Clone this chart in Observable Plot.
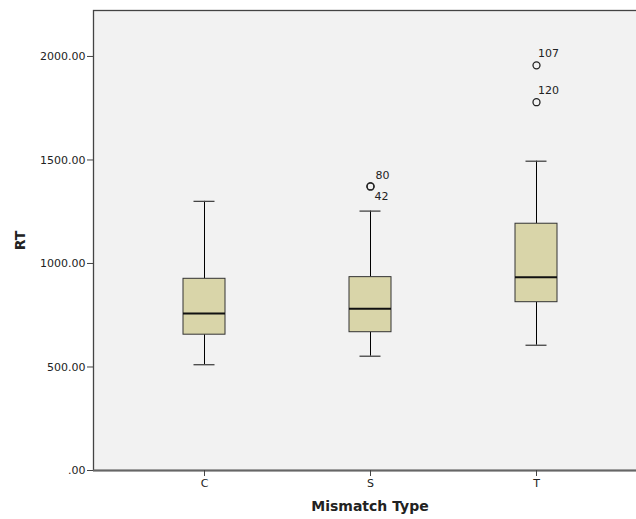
<!DOCTYPE html>
<html>
<head>
<meta charset="utf-8">
<script src="https://cdn.jsdelivr.net/npm/d3@7"></script>
<script src="https://cdn.jsdelivr.net/npm/@observablehq/plot@0.6"></script>
<style>
  html, body { margin: 0; padding: 0; background: #fff; overflow: hidden; }
  #chart { width: 636px; height: 519px; overflow: hidden; }
  #chart svg { max-width: none !important; }
</style>
</head>
<body>
<div id="chart"></div>
<script>
// Summary statistics
const categories = ["C", "S", "T"];
const q1 = [656, 668, 813];
const median = [758, 781, 934];
const q3 = [926, 934, 1192];
const whiskerLow = [511, 552, 605];
const whiskerHigh = [1300, 1253, 1494];

// Outliers: category, value, case label
const outlierCat = ["S", "S", "T", "T"];
const outlierVal = [1372, 1372, 1957, 1779];
const outlierLabel = ["80", "42", "107", "120"];

const yTicks = [0, 500, 1000, 1500, 2000];

const boxes = categories.map((c, i) => ({
  cat: c, q1: q1[i], med: median[i], q3: q3[i], lo: whiskerLow[i], hi: whiskerHigh[i]
}));
const outliers = outlierCat.map((c, i) => ({cat: c, val: outlierVal[i], label: outlierLabel[i]}));

const font = "'DejaVu Sans', sans-serif";

const chart = Plot.plot({
  width: 646,
  height: 519,
  marginLeft: 93,
  marginRight: 0,
  marginTop: 10,
  marginBottom: 49,
  style: {fontFamily: font, fontSize: "11px", color: "#222", background: "#fff", maxWidth: "none"},
  x: {domain: categories, paddingInner: 0.748, paddingOuter: 0.535, align: 0.5},
  y: {domain: [0, 2222]},
  marks: [
    Plot.frame({fill: "#f2f2f2"}),
    Plot.frame({stroke: "#444", strokeWidth: 1.3}),
    Plot.ruleY([0], {stroke: "#666", strokeWidth: 2}),
    Plot.axisY({
      ticks: yTicks,
      tickFormat: d => d === 0 ? ".00" : d.toFixed(2),
      tickSize: 6, tickPadding: 2, stroke: "#444",
      label: "RT", labelAnchor: "center", labelArrow: "none", labelOffset: 78
    }),
    Plot.axisX({
      tickSize: 6, tickPadding: 3, stroke: "#444",
      label: "Mismatch Type", labelAnchor: "center", labelArrow: "none", labelOffset: 40
    }),
    // whiskers
    Plot.ruleX(boxes, {x: "cat", y1: "lo", y2: "q1", stroke: "#000", strokeWidth: 1}),
    Plot.ruleX(boxes, {x: "cat", y1: "q3", y2: "hi", stroke: "#000", strokeWidth: 1}),
    Plot.tickY(boxes, {x: "cat", y: "lo", stroke: "#444", strokeWidth: 1.3, insetLeft: 10.5, insetRight: 10.5}),
    Plot.tickY(boxes, {x: "cat", y: "hi", stroke: "#444", strokeWidth: 1.3, insetLeft: 10.5, insetRight: 10.5}),
    // boxes
    Plot.rectY(boxes, {x: "cat", y1: "q1", y2: "q3", fill: "#d9d5a9", stroke: "#333", strokeWidth: 1}),
    Plot.tickY(boxes, {x: "cat", y: "med", stroke: "#111", strokeWidth: 2}),
    // outliers
    Plot.dot(outliers, {x: "cat", y: "val", r: 3.5, stroke: "#222", strokeWidth: 1.3, fill: "none"}),
    Plot.text(outliers.filter(d => d.cat === "S" && d.label === "80"), {x: "cat", y: "val", text: "label", dx: 5, dy: -11, textAnchor: "start", fontSize: 11, fill: "#222"}),
    Plot.text(outliers.filter(d => d.cat === "S" && d.label === "42"), {x: "cat", y: "val", text: "label", dx: 4, dy: 10, textAnchor: "start", fontSize: 11, fill: "#222"}),
    Plot.text(outliers.filter(d => d.cat === "T"), {x: "cat", y: "val", text: "label", dx: 1.5, dy: -12, textAnchor: "start", fontSize: 11, fill: "#222"})
  ]
});

// bold axis labels
chart.querySelectorAll("[aria-label='y-axis label'] text, [aria-label='x-axis label'] text").forEach(t => {
  t.setAttribute("font-weight", "bold");
  t.setAttribute("font-size", "14px");
});
document.getElementById("chart").appendChild(chart);
</script>
</body>
</html>
